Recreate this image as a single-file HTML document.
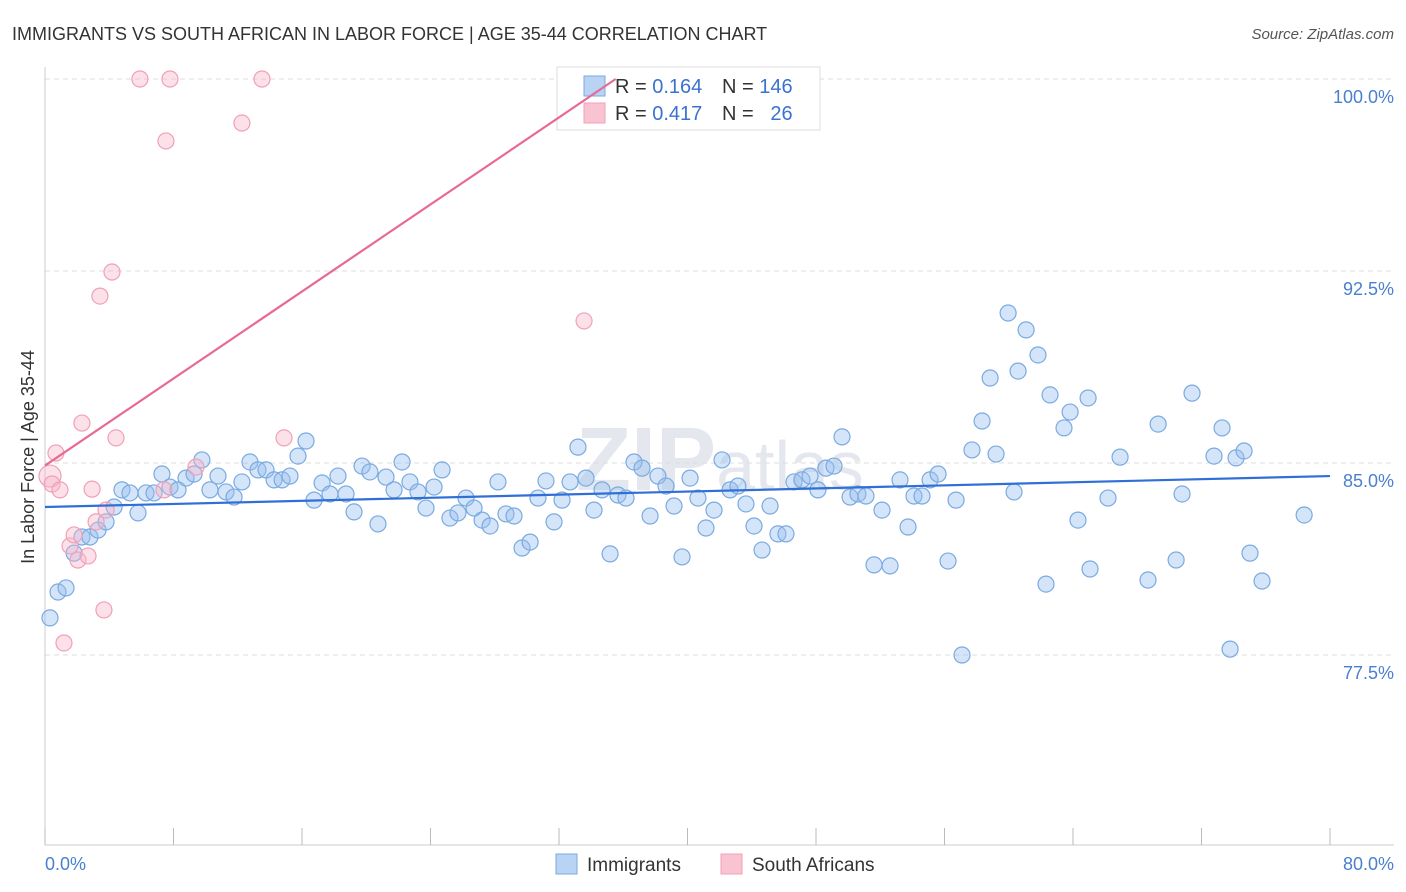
<!DOCTYPE html>
<html><head><meta charset="utf-8"><style>
body{margin:0;background:#fff;font-family:"Liberation Sans",sans-serif}
svg{display:block}
</style></head><body>
<svg id="c" width="1406" height="892">
<text x="12" y="40" font-size="18" fill="#333">IMMIGRANTS VS SOUTH AFRICAN IN LABOR FORCE | AGE 35-44 CORRELATION CHART</text>
<text x="1394" y="39" font-size="15" fill="#555" font-style="italic" text-anchor="end">Source: ZipAtlas.com</text>
<text x="720" y="490" font-size="90" fill="#e4e8ee" text-anchor="middle" font-weight="bold">ZIP<tspan font-weight="normal" font-size="70">atlas</tspan></text>
<g id="grid"></g><g id="axes"></g><g id="pts"></g>
<text transform="translate(34,457) rotate(-90)" font-size="18" fill="#333" text-anchor="middle">In Labor Force | Age 35-44</text>
<text x="45" y="870" font-size="18" fill="#4a7fd0">0.0%</text>
<text x="1394" y="870" font-size="18" fill="#4a7fd0" text-anchor="end">80.0%</text>
<g>
<rect x="557" y="67" width="263" height="63" fill="#fff" stroke="#ddd"/>
<rect x="584" y="76" width="21" height="20" fill="#b9d3f5" stroke="#7aaae0"/>
<rect x="584" y="103" width="21" height="20" fill="#f9c3d2" stroke="#f0a0b8"/>
<text x="615" y="93" font-size="20" fill="#333">R = <tspan fill="#3a72d0">0.164</tspan></text>
<text x="722" y="93" font-size="20" fill="#333">N = <tspan fill="#3a72d0">146</tspan></text>
<text x="615" y="120" font-size="20" fill="#333">R = <tspan fill="#3a72d0">0.417</tspan></text>
<text x="722" y="120" font-size="20" fill="#333">N = <tspan fill="#3a72d0">&#160;&#160;26</tspan></text>
</g>
<g id="trend"></g>
<g>
<rect x="556" y="854" width="21" height="20" fill="#b9d3f5" stroke="#7aaae0"/>
<text x="587" y="871" font-size="19" fill="#333">Immigrants</text>
<rect x="721" y="854" width="21" height="20" fill="#f9c3d2" stroke="#f0a0b8"/>
<text x="752" y="871" font-size="19" fill="#333">South Africans</text>
</g>
</svg>
<script>
const blueX=[0.31,0.81,1.31,1.81,2.30,2.80,3.30,3.80,4.30,4.79,5.29,5.79,6.29,6.79,7.28,7.78,8.28,8.78,9.28,9.77,10.27,10.77,11.27,11.77,12.26,12.76,13.26,13.76,14.26,14.76,15.25,15.75,16.25,16.75,17.25,17.74,18.24,18.74,19.24,19.74,20.23,20.73,21.23,21.73,22.23,22.72,23.22,23.72,24.22,24.72,25.21,25.71,26.21,26.71,27.21,27.71,28.20,28.70,29.20,29.70,30.20,30.69,31.19,31.69,32.19,32.69,33.18,33.68,34.18,34.68,35.18,35.67,36.17,36.67,37.17,37.67,38.16,38.66,39.16,39.66,40.16,40.65,41.15,41.65,42.15,42.65,43.14,43.64,44.14,44.64,45.14,45.63,46.13,46.63,47.13,47.63,48.12,48.62,49.12,49.62,50.12,50.61,51.11,51.61,52.11,52.61,53.23,53.73,54.10,54.60,55.10,55.60,56.22,56.72,57.09,57.71,58.34,58.84,59.21,59.96,60.33,60.58,61.08,61.82,62.32,62.57,63.44,63.82,64.31,64.94,65.06,66.18,66.93,68.67,69.30,70.42,70.79,71.41,72.78,73.28,73.78,74.15,74.65,75.02,75.77,78.39];
const blueY=[78.95,79.96,80.12,81.48,82.11,82.11,82.38,82.70,83.28,83.95,83.83,83.05,83.83,83.83,84.57,84.06,83.95,84.41,84.57,85.12,83.95,84.49,83.87,83.67,84.26,85.04,84.73,84.73,84.34,84.34,84.49,85.27,85.86,83.55,84.22,83.79,84.49,83.79,83.09,84.88,84.65,82.62,84.45,83.95,85.04,84.26,83.87,83.24,84.06,84.73,82.85,83.05,83.63,83.24,82.77,82.54,84.26,83.01,82.93,81.68,81.91,83.63,84.30,82.70,83.55,84.26,85.62,84.41,83.16,83.95,81.45,83.75,83.63,85.04,84.80,82.93,84.49,84.10,83.32,81.33,84.41,83.63,82.46,83.16,85.12,83.95,84.10,83.40,82.54,81.60,83.32,82.23,82.23,84.26,84.34,84.49,83.95,84.80,84.88,86.02,83.67,83.79,83.71,81.02,83.16,80.98,84.34,82.50,83.71,83.71,84.34,84.57,81.17,83.55,77.50,85.51,86.64,88.32,85.35,90.86,83.87,88.59,90.20,89.22,80.27,87.66,86.37,86.99,82.77,87.54,80.86,83.63,85.23,80.43,86.52,81.21,83.79,87.73,85.27,86.37,77.73,85.20,85.47,81.48,80.39,82.97];
const pinkX=[0.31,0.44,0.68,0.93,1.18,1.56,1.81,2.05,2.30,2.68,2.93,3.18,3.42,3.67,3.80,4.17,4.42,5.91,7.41,7.53,7.78,9.40,12.26,13.51,14.88,33.56];
const pinkY=[84.49,84.18,85.39,83.95,77.97,81.76,82.19,81.21,86.56,81.37,83.98,82.70,91.52,79.26,83.16,92.46,85.98,100,83.95,97.58,100,84.84,98.28,100,85.98,90.55];
const yTicks=[100,92.5,85,77.5];
const yTickLabels=["100.0%","92.5%","85.0%","77.5%"];
const xTicks=[0,8,16,24,32,40,48,56,64,72,80];
const blueTrend=[83.28,84.49];
const pinkTrend=[84.9,0.425];
const NS="http://www.w3.org/2000/svg";
const sx=v=>45+v/80*1285, sy=v=>79+(100-v)/7.5*192;
function mk(tag,attrs,parent){const e=document.createElementNS(NS,tag);for(const k in attrs)e.setAttribute(k,attrs[k]);document.getElementById(parent).appendChild(e);return e;}
yTicks.forEach((t,i)=>{
 const l=mk('line',{x1:45,x2:1394,y1:sy(t),y2:sy(t),stroke:'#ddd','stroke-dasharray':'5,4'},'grid');
 
 
 const tx=mk('text',{x:1394,y:sy(t)+24,'font-size':18,fill:'#4a7fd0','text-anchor':'end'},'grid');
 tx.textContent=yTickLabels[i];
 
 
});
const ax=mk('line',{x1:45,x2:1394,y1:845,y2:845,stroke:'#ccc'},'axes');


const ay=mk('line',{x1:45,x2:45,y1:67,y2:845,stroke:'#ccc'},'axes');


xTicks.forEach(t=>{
 const l=mk('line',{x1:sx(t),x2:sx(t),y1:828,y2:845,stroke:'#bbb'},'axes');
 
 
});
blueX.forEach((x,i)=>{
 const c=mk('circle',{cx:sx(x),cy:sy(blueY[i]),r:8,fill:'rgba(150,190,240,0.4)',stroke:'#7aaae0','stroke-width':1.2},'pts');
 
 
});
pinkX.forEach((x,i)=>{
 const c=mk('circle',{cx:sx(x),cy:sy(pinkY[i]),r:i==0?11:8,fill:'rgba(248,180,200,0.4)',stroke:'#f0a0b8','stroke-width':1.2},'pts');
 
 
});
const bl=mk('line',{x1:sx(0),y1:sy(blueTrend[0]),x2:sx(80),y2:sy(blueTrend[1]),stroke:'#2f6fd6','stroke-width':2.2},'trend');


const xe=(100-pinkTrend[0])/pinkTrend[1];
const pl=mk('line',{x1:sx(0),y1:sy(pinkTrend[0]),x2:sx(xe),y2:sy(100),stroke:'#e86a94','stroke-width':2.2},'trend');


</script>
</body></html>
